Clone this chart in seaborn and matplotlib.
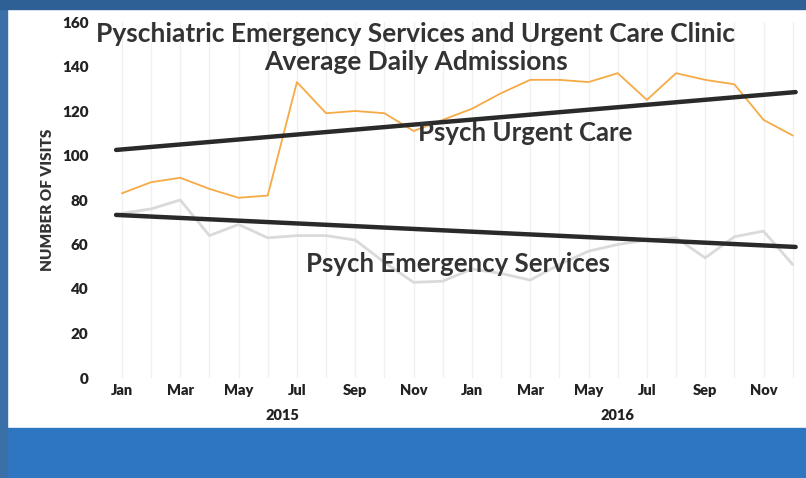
import numpy as np
import pandas as pd
import matplotlib
matplotlib.use("Agg")
import matplotlib.pyplot as plt
import seaborn as sns
from matplotlib.patches import Rectangle

# ---- data ----
months = ["Jan", "Feb", "Mar", "Apr", "May", "Jun", "Jul", "Aug", "Sep", "Oct", "Nov", "Dec"] * 2
years = [2015] * 12 + [2016] * 12
urgent_care = [83, 88, 90, 85, 81, 82, 133, 119, 120, 119, 111, 116,
               121, 128, 134, 134, 133, 137, 125, 137, 134, 132, 116, 109]
emergency = [74, 76, 80, 64, 69, 63, 64, 64, 62, 52, 43, 43.5,
             49, 47, 44, 51, 57, 60, 62, 63, 54, 63.5, 66, 51]
trend_x = [-0.2, 23.1]
trend_urgent = [102.5, 128.5]
trend_emerg = [73.3, 58.9]
year_labels = ["2015", "2016"]
year_label_pos = [5.5, 17.0]
yticks = [0, 20, 40, 60, 80, 100, 120, 140, 160]

df = pd.DataFrame({"idx": np.arange(len(months)), "month": months, "year": years,
                   "urgent": urgent_care, "emergency": emergency})

sns.set_theme(style="white")
plt.rcParams['font.family'] = ['Lato', 'DejaVu Sans']

W, H = 806, 478
fig = plt.figure(figsize=(W / 100, H / 100), dpi=100)
fig.patch.set_facecolor("white")

# slide frame
blue = "#2F76C2"
fig.add_artist(Rectangle((0, 0), 1, 50 / H, transform=fig.transFigure, color=blue, zorder=0))
fig.add_artist(Rectangle((0, 0), 7 / W, 1, transform=fig.transFigure, color="#3A6FA8", zorder=0))
fig.add_artist(Rectangle((0, 1 - 9 / H), 1, 9 / H, transform=fig.transFigure, color="#2E5F95", zorder=0))

ax = fig.add_axes([105 / W, 100 / H, 695 / W, 356 / H])
ax.set_facecolor("none")

sns.lineplot(data=df, x="idx", y="urgent", ax=ax, color="#F6AA45", linewidth=1.3, zorder=3)
sns.lineplot(data=df, x="idx", y="emergency", ax=ax, color="#DADADA", linewidth=2.0, zorder=3)
sns.lineplot(x=trend_x, y=trend_urgent, ax=ax, color="#2A2A2A", linewidth=3.2, zorder=4)
sns.lineplot(x=trend_x, y=trend_emerg, ax=ax, color="#2A2A2A", linewidth=3.2, zorder=4)

ax.set_xlim(-0.58, 23.25)
ax.set_ylim(0, 160)
for i in range(len(months)):
    ax.axvline(i, color="#F0F0F0", linewidth=1.0, zorder=1)

ax.set_yticks(yticks)
ax.set_yticklabels([str(v) for v in yticks], fontsize=11, fontweight="heavy", color="#222222")
ax.set_xticks(df["idx"][::2])
ax.set_xticklabels(df["month"][::2], fontsize=10.5, fontweight="heavy", color="#222222")
ax.tick_params(axis="x", length=0, pad=4)
ax.tick_params(axis="y", length=0, pad=12)
ax.set_xlabel("")
ax.set_ylabel("NUMBER OF VISITS", fontsize=11, fontweight="heavy", color="#333333", labelpad=6)
for s in ax.spines.values():
    s.set_visible(False)

for lab, pos in zip(year_labels, year_label_pos):
    ax.text(pos, -0.105, lab, transform=ax.get_xaxis_transform(), ha="center", va="center",
            fontsize=10.5, fontweight="heavy", color="#222222")

tc = "#333333"
fig.text(415 / W, 1 - 34 / H, "Pyschiatric Emergency Services and Urgent Care Clinic",
         ha="center", va="center", fontsize=19, fontweight="bold", color=tc)
fig.text(416 / W, 1 - 62 / H, "Average Daily Admissions",
         ha="center", va="center", fontsize=19, fontweight="bold", color=tc)
fig.text(525 / W, 1 - 133 / H, "Psych Urgent Care",
         ha="center", va="center", fontsize=18.5, fontweight="bold", color=tc)
fig.text(458 / W, 1 - 264 / H, "Psych Emergency Services",
         ha="center", va="center", fontsize=18.5, fontweight="bold", color=tc)

fig.savefig("out.png", dpi=100)
